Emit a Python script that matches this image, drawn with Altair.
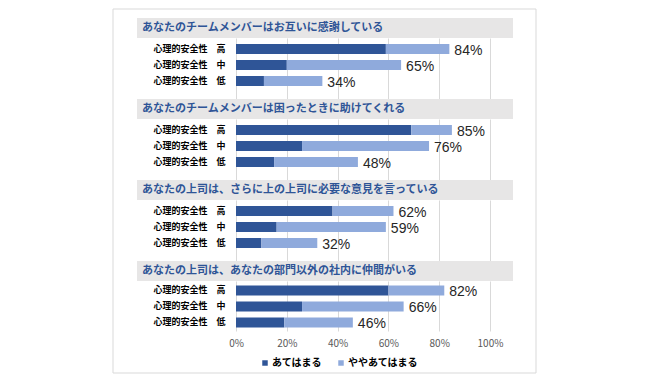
import altair as alt
import pandas as pd

questions = [
    "あなたのチームメンバーはお互いに感謝している",
    "あなたのチームメンバーは困ったときに助けてくれる",
    "あなたの上司は、さらに上の上司に必要な意見を言っている",
    "あなたの上司は、あなたの部門以外の社内に仲間がいる",
]
levels = ["心理的安全性　高", "心理的安全性　中", "心理的安全性　低"]
series = ["あてはまる", "ややあてはまる"]
ate = [[59, 20, 11], [69, 26, 15], [38, 16, 10], [60, 26, 19]]
total = [[84, 65, 34], [85, 76, 48], [62, 59, 32], [82, 66, 46]]
ticks = [0, 20, 40, 60, 80, 100]
colors = ["#2F5597", "#8FAADC"]

JP = "Noto Sans CJK JP"

bar_rows, lab_rows = [], []
for qi, q in enumerate(questions):
    for li, lv in enumerate(levels):
        a = ate[qi][li]
        t = total[qi][li]
        bar_rows.append({"q": q, "level": lv, "series": series[0], "ord": 0, "value": a})
        bar_rows.append({"q": q, "level": lv, "series": series[1], "ord": 1, "value": t - a})
        lab_rows.append({"q": q, "level": lv, "total": t, "label": f"{t}%"})
bars_df = pd.DataFrame(bar_rows)
labs_df = pd.DataFrame(lab_rows)


def panel(i):
    last = i == len(questions) - 1
    q = questions[i]
    h = 50 if last else 61
    po = 0.25 if last else 0.59375
    al = 0.56 if last else 0.316
    yenc = alt.Y(
        "level:N",
        sort=levels,
        scale=alt.Scale(domain=levels, paddingInner=0.375, paddingOuter=po, align=al),
        axis=alt.Axis(title=None, labelFont=JP, labelFontWeight="bold", labelFontSize=9,
                      labelColor="#000000", labelPadding=11, ticks=False, domain=False),
    )
    xaxis = alt.Axis(values=ticks, grid=True, gridColor="#D9D9D9", domain=False, ticks=False,
                     labels=last, labelExpr="datum.value + '%'", title=None, labelFlush=False,
                     labelFont=JP, labelFontSize=10, labelColor="#595959", labelPadding=7)
    bars = alt.Chart(bars_df[bars_df.q == q]).mark_bar().encode(
        x=alt.X("value:Q", stack="zero", scale=alt.Scale(domain=[0, 100], nice=False), axis=xaxis),
        y=yenc,
        color=alt.Color("series:N", scale=alt.Scale(domain=series, range=colors),
                        legend=alt.Legend(orient="none", legendX=24, legendY=320, direction="horizontal",
                                          columns=2, title=None, symbolType="square", symbolSize=30,
                                          symbolStrokeWidth=0, labelFont=JP, labelFontSize=10,
                                          labelFontWeight="bold", labelColor="#000000",
                                          columnPadding=14, labelOffset=2)),
        order=alt.Order("ord:Q"),
    )
    texts = alt.Chart(labs_df[labs_df.q == q]).mark_text(
        align="left", baseline="middle", dx=5, dy=1.5, fontSize=14,
        font="Liberation Sans", color="#262626"
    ).encode(x="total:Q", y=alt.Y("level:N", sort=levels), text="label:N")
    hdf = pd.DataFrame({"q": [q]})
    hrect = alt.Chart(hdf).mark_rect(color="#E7E6E6").encode(
        x=alt.value(-99), x2=alt.value(277), y=alt.value(-20), y2=alt.value(0)
    )
    htext = alt.Chart(hdf).mark_text(
        align="left", baseline="middle", font=JP, fontSize=11, fontWeight="bold", color="#2F5597"
    ).encode(x=alt.value(-94), y=alt.value(-10), text="q:N")
    layers = []
    if i == 0:
        frame = alt.Chart(hdf).mark_rect(fill="transparent", stroke="#D9D9D9", strokeWidth=1).encode(
            x=alt.value(-123), x2=alt.value(300), y=alt.value(-29), y2=alt.value(335)
        )
        layers.append(frame)
    layers += [bars, texts, hrect, htext]
    return alt.layer(*layers).properties(width=254, height=h)


chart = alt.vconcat(*[panel(i) for i in range(len(questions))], spacing=20, bounds="flush").properties(
    padding={"left": 104, "top": 0, "right": 5, "bottom": 0},
    background="white",
).configure_view(stroke=None)

chart.save("out.html", embed_options={"renderer": "svg", "actions": False})
